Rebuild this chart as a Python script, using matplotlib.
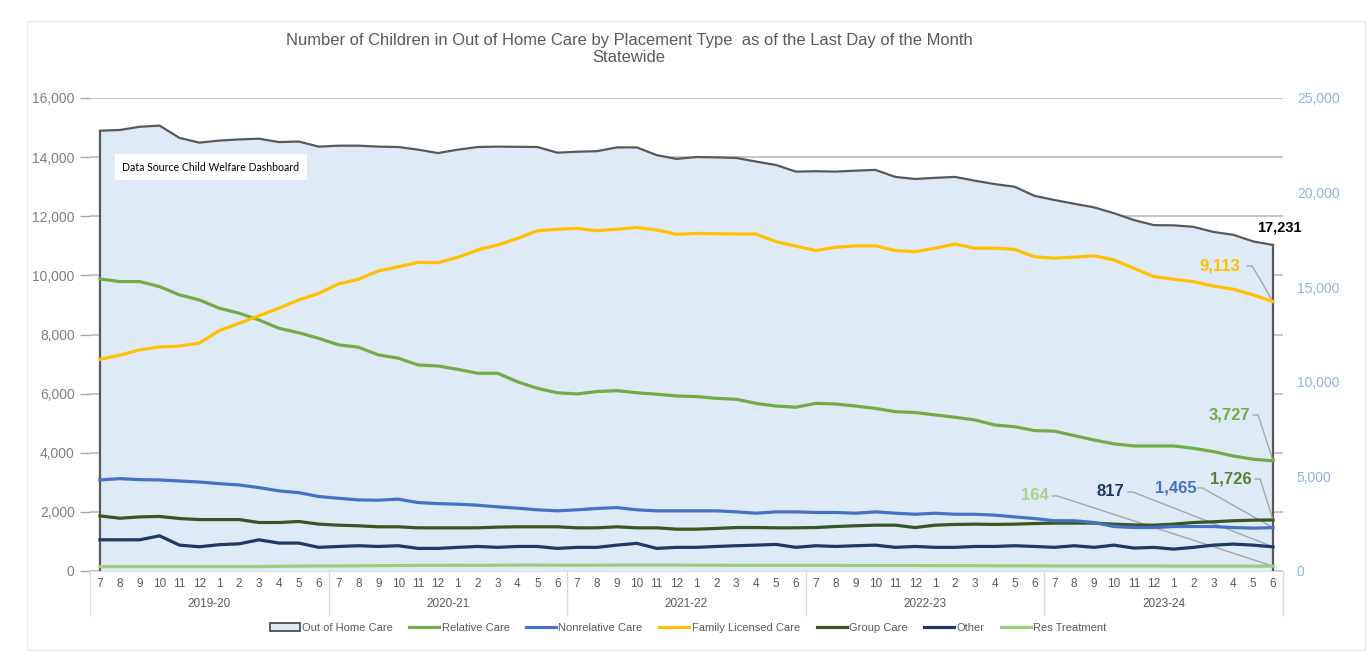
import matplotlib
matplotlib.use("Agg")
import matplotlib.pyplot as plt
from matplotlib.patches import Patch, Rectangle
from matplotlib.lines import Line2D
from matplotlib.ticker import FuncFormatter, MultipleLocator

# ---------------- data ----------------
month_labels = ['7', '8', '9', '10', '11', '12', '1', '2', '3', '4', '5', '6']
fiscal_years = ['2019-20', '2020-21', '2021-22', '2022-23', '2023-24']

# Out of Home Care (right axis)
out_of_home = [23270, 23310, 23480, 23540, 22890, 22640, 22750, 22810, 22850, 22670, 22700, 22430,
               22480, 22480, 22430, 22410, 22270, 22090, 22270, 22410, 22430, 22420, 22410, 22110,
               22160, 22190, 22390, 22390, 21980, 21780, 21880, 21860, 21830, 21640, 21460, 21110,
               21130, 21110, 21160, 21200, 20830, 20720, 20780, 20830, 20630, 20450, 20310, 19830,
               19610, 19410, 19220, 18910, 18550, 18280, 18270, 18190, 17920, 17770, 17420, 17231]

relative_care = [9880, 9790, 9790, 9620, 9340, 9170, 8890, 8720, 8490, 8210, 8060, 7870,
                 7650, 7570, 7310, 7200, 6970, 6935, 6820, 6690, 6690, 6400, 6180, 6030,
                 5990, 6070, 6100, 6030, 5980, 5920, 5900, 5840, 5810, 5670, 5580, 5540,
                 5670, 5650, 5580, 5500, 5390, 5360, 5280, 5200, 5110, 4940, 4880, 4750,
                 4730, 4580, 4430, 4300, 4230, 4230, 4230, 4150, 4040, 3890, 3780, 3727]

nonrelative_care = [3080, 3125, 3090, 3080, 3045, 3010, 2955, 2910, 2820, 2710, 2650, 2520,
                    2460, 2405, 2395, 2430, 2315, 2280, 2260, 2225, 2170, 2125, 2070, 2035,
                    2070, 2115, 2145, 2070, 2035, 2035, 2035, 2035, 2000, 1955, 2000, 2000,
                    1980, 1980, 1955, 2000, 1955, 1920, 1955, 1920, 1920, 1890, 1830, 1775,
                    1700, 1700, 1640, 1505, 1470, 1470, 1505, 1505, 1505, 1470, 1450, 1465]

family_licensed = [7160, 7300, 7480, 7580, 7610, 7710, 8130, 8380, 8630, 8890, 9170, 9390,
                   9710, 9870, 10150, 10290, 10440, 10430, 10610, 10860, 11030, 11250, 11510, 11560,
                   11590, 11510, 11560, 11620, 11535, 11390, 11420, 11410, 11400, 11400, 11140, 10990,
                   10840, 10950, 10995, 11000, 10840, 10800, 10920, 11060, 10920, 10920, 10880, 10630,
                   10580, 10620, 10660, 10520, 10240, 9960, 9870, 9790, 9640, 9530, 9340, 9113]

group_care = [1865, 1785, 1830, 1845, 1775, 1740, 1740, 1740, 1640, 1640, 1675, 1585,
              1550, 1530, 1495, 1495, 1460, 1460, 1460, 1460, 1485, 1495, 1495, 1495,
              1460, 1460, 1495, 1460, 1460, 1415, 1415, 1440, 1470, 1470, 1460, 1460,
              1470, 1505, 1530, 1550, 1550, 1470, 1550, 1575, 1585, 1575, 1585, 1605,
              1620, 1620, 1620, 1585, 1560, 1550, 1585, 1640, 1665, 1700, 1720, 1726]

other = [1055, 1055, 1055, 1190, 875, 820, 890, 920, 1055, 945, 945, 800,
         830, 855, 830, 855, 765, 765, 800, 830, 800, 830, 830, 765,
         800, 800, 875, 935, 765, 800, 800, 830, 855, 875, 900, 800,
         855, 830, 855, 875, 800, 830, 800, 800, 830, 830, 855, 830,
         800, 855, 800, 875, 775, 800, 740, 800, 875, 910, 875, 817]

res_treatment = [150, 150, 150, 150, 150, 150, 150, 150, 150, 160, 165, 170,
                 170, 175, 180, 185, 190, 190, 195, 190, 195, 200, 200, 195,
                 195, 195, 200, 200, 200, 200, 195, 195, 190, 190, 190, 190,
                 190, 190, 185, 185, 185, 185, 180, 180, 180, 175, 175, 175,
                 170, 170, 170, 170, 170, 170, 165, 165, 165, 165, 165, 164]

# ---------------- styling ----------------
C_AREA = '#DEEBF7'
C_AREA_EDGE = '#595959'
C_REL = '#70AD47'
C_NONREL = '#4472C4'
C_FAM = '#FFC000'
C_GROUP = '#375623'
C_OTHER = '#203864'
C_RES = '#9DCF7A'
C_TEXT = '#595959'
C_GRID = '#C0C0C0'

FONT = 'Liberation Sans'
plt.rcParams['font.family'] = [FONT, 'DejaVu Sans']

W, H = 1371, 662
fig = plt.figure(figsize=(W / 100, H / 100), dpi=100)
fig.patch.set_facecolor('white')

# faint chart border
fig.add_artist(Rectangle((27 / W, 1 - 650 / H), (1365 - 27) / W, (650 - 21) / H,
                         transform=fig.transFigure, fill=False, edgecolor='#ECECEC', lw=1))

L, R, T, B = 90, 1283, 98, 571
pos = [L / W, 1 - B / H, (R - L) / W, (B - T) / H]

n = len(out_of_home)
x = list(range(n))

# base axes: left scale + gridlines
ax = fig.add_axes(pos, zorder=1)
ax.set_xlim(-0.5, n - 0.5)
ax.set_ylim(0, 16000)
ax.yaxis.set_major_locator(MultipleLocator(2000))
ax.yaxis.set_major_formatter(FuncFormatter(lambda v, p: f'{int(v):,}'))
ax.grid(axis='y', color=C_GRID, lw=1.3)
ax.set_axisbelow(True)
ax.set_facecolor('white')
for s in ['top', 'right', 'left']:
    ax.spines[s].set_visible(False)
ax.spines['bottom'].set_color('#D9D9D9')
ax.tick_params(axis='y', length=7, width=1, color='#A6A6A6', pad=4,
               labelsize=10, labelcolor='#7F7F7F')
ax.set_xticks(x)
ax.set_xticklabels([month_labels[i % 12] for i in x])
ax.tick_params(axis='x', length=0, pad=5, labelsize=8.5, labelcolor=C_TEXT)

# fiscal-year group labels and separators
for g, fy in enumerate(fiscal_years):
    ax.text(g * 12 + 5.5, -0.07, fy, transform=ax.get_xaxis_transform(),
            ha='center', va='center', fontsize=8.5, color=C_TEXT)
for k in range(len(fiscal_years) + 1):
    ax.plot([k * 12 - 0.5] * 2, [0, -0.093], transform=ax.get_xaxis_transform(),
            color='#D9D9D9', lw=1, clip_on=False)

# area axes: right scale
ax2 = ax.twinx()
ax2.set_zorder(2)
ax2.patch.set_visible(False)
ax2.set_ylim(0, 25000)
ax2.yaxis.set_major_locator(MultipleLocator(5000))
ax2.yaxis.set_major_formatter(FuncFormatter(lambda v, p: f'{int(v):,}'))
ax2.tick_params(axis='y', length=0, pad=10, labelsize=10, labelcolor='#8FB3E0')
for s in ax2.spines.values():
    s.set_visible(False)
ax2.fill_between(x, out_of_home, 0, color=C_AREA, lw=0)
ax2.plot(x, out_of_home, color=C_AREA_EDGE, lw=1.6)
ax2.plot([x[0], x[0]], [0, out_of_home[0]], color=C_AREA_EDGE, lw=1.6)
ax2.plot([x[-1], x[-1]], [0, out_of_home[-1]], color=C_AREA_EDGE, lw=1.6)

# line axes: shares left scale
ax3 = fig.add_axes(pos, sharex=ax, sharey=ax, zorder=3)
ax3.patch.set_visible(False)
ax3.axis('off')

series = [
    ('Relative Care', relative_care, C_REL),
    ('Nonrelative Care', nonrelative_care, C_NONREL),
    ('Family Licensed Care', family_licensed, C_FAM),
    ('Group Care', group_care, C_GROUP),
    ('Other', other, C_OTHER),
    ('Res Treatment', res_treatment, C_RES),
]
for name, vals, col in [series[5], series[4], series[3], series[1], series[0], series[2]]:
    ax3.plot(x, vals, color=col, lw=2.3, solid_joinstyle='round')

# end-point data labels with leader lines
last = n - 1
ax3.text(59.3, 11604, f'{out_of_home[-1]:,}', ha='center', va='center',
         fontsize=10.5, fontweight='bold', color='black')
labels = [
    (family_licensed[-1], C_FAM, 56.3, 10318, 57.7, 57.95),
    (relative_care[-1], C_REL, 56.8, 5277, 58.0, 58.25),
    (group_care[-1], '#548235', 56.9, 3112, 58.1, 58.35),
    (nonrelative_care[-1], C_NONREL, 54.1, 2808, 55.2, 55.45),
    (other[-1], C_OTHER, 50.8, 2673, 51.7, 51.95),
    (res_treatment[-1], '#A9D18E', 47.0, 2537, 47.9, 48.15),
]
for val, col, tx, ty, s0, s1 in labels:
    ax3.text(tx, ty, f'{val:,}', ha='center', va='center', fontsize=12,
             fontweight='bold', color=col)
    ax3.plot([s0, s1, last], [ty, ty, val], color='#A6A6A6', lw=1, zorder=1)

# data source box
fig.text(211 / W, 1 - 167 / H, 'Data Source Child Welfare Dashboard', ha='center', va='center',
         fontsize=7.6, color='black', family=['Lato', 'DejaVu Sans'],
         bbox=dict(facecolor='white', edgecolor='none', boxstyle='square,pad=0.75'), zorder=10)

# title
fig.text(629 / W, 1 - 40 / H,
         'Number of Children in Out of Home Care by Placement Type  as of the Last Day of the Month',
         ha='center', va='center', fontsize=11.9, color=C_TEXT)
fig.text(629 / W, 1 - 58 / H, 'Statewide', ha='center', va='center', fontsize=11.9, color=C_TEXT)

# legend
handles = [Patch(facecolor=C_AREA, edgecolor='#404040', lw=1.2)]
names = ['Out of Home Care']
for name, vals, col in series:
    handles.append(Line2D([0], [0], color=col, lw=2.3))
    names.append(name)
leg = fig.legend(handles, names, loc='center', bbox_to_anchor=(688 / W, 1 - 628 / H),
                 ncol=7, frameon=False, fontsize=8, handlelength=2.7, handleheight=0.8,
                 handletextpad=0.2, columnspacing=1.5)
for t in leg.get_texts():
    t.set_color(C_TEXT)

fig.savefig('out.png', dpi=100)
